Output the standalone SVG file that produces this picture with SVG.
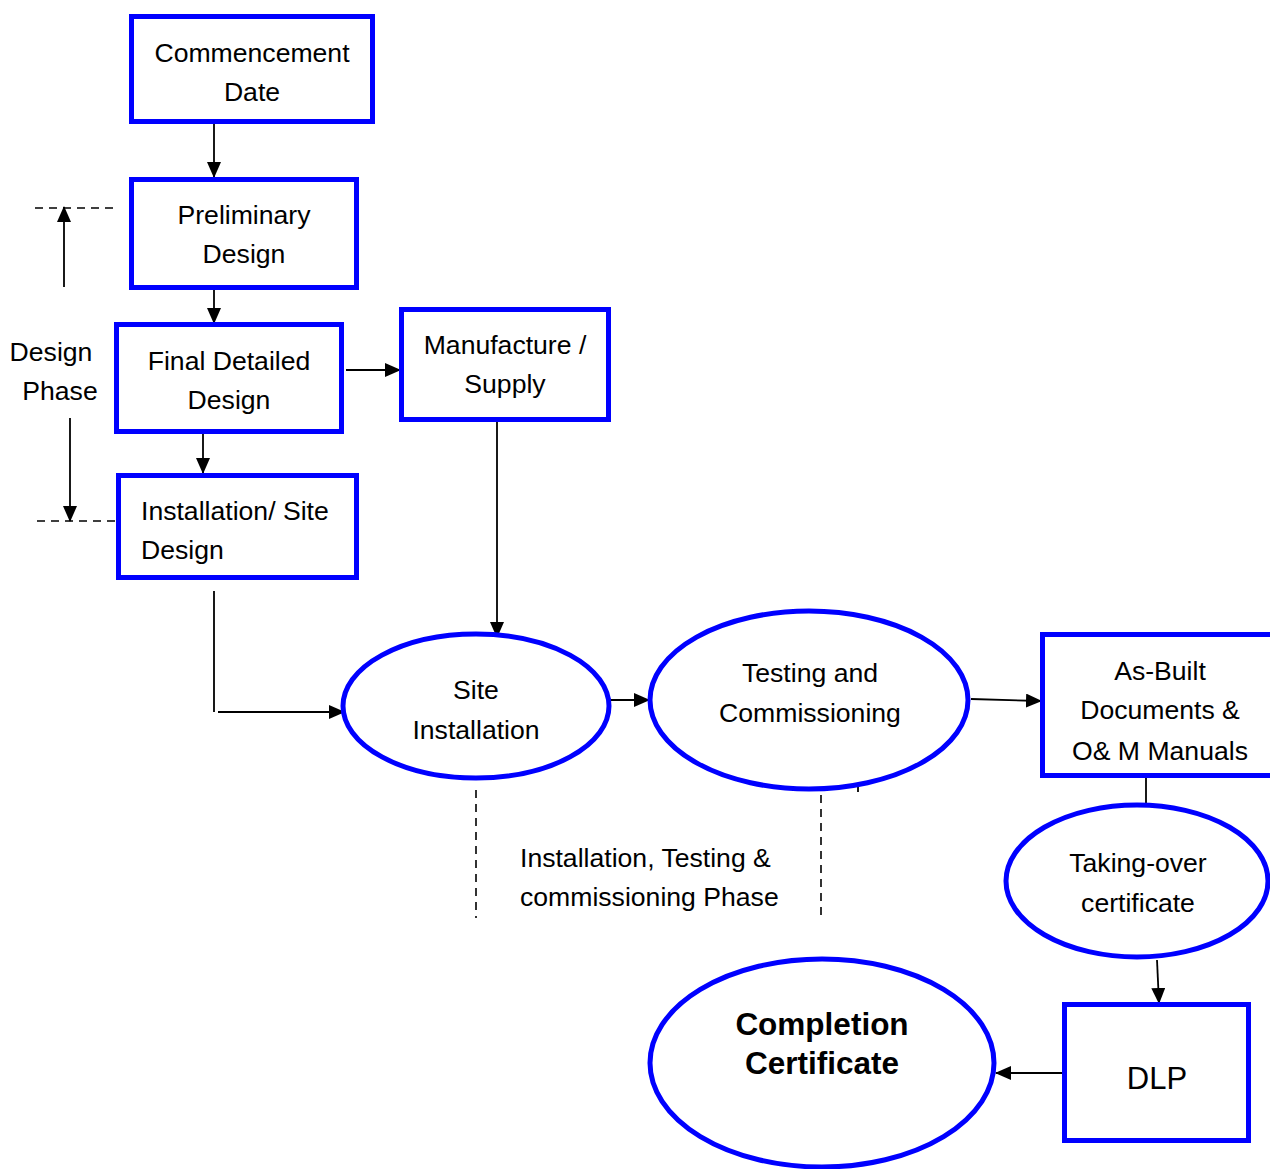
<svg xmlns="http://www.w3.org/2000/svg" width="1270" height="1169" viewBox="0 0 1270 1169">
<style>
.box{fill:#fff;stroke:#0000ff;stroke-width:5}
.t{font-family:"Liberation Sans",Arial,sans-serif;font-size:26.6px;fill:#000}
.c{text-anchor:middle}
.b{font-weight:bold;font-size:31.5px}
.ln{fill:none;stroke:#000;stroke-width:1.8}
.ds{fill:none;stroke:#000;stroke-width:1.6;stroke-dasharray:8 6}
</style>
<defs>
<marker id="ah" markerWidth="16" markerHeight="14" refX="15" refY="7" orient="auto" markerUnits="userSpaceOnUse">
<path d="M0,0 L16,7 L0,14 Z" fill="#000"/>
</marker>
</defs>
<rect width="1270" height="1169" fill="#fff"/>
<g id="connectors">
<path class="ln" d="M214,124 V177" marker-end="url(#ah)"/>
<path class="ln" d="M214,290 V323" marker-end="url(#ah)"/>
<path class="ln" d="M346,370 H400" marker-end="url(#ah)"/>
<path class="ln" d="M203,434 V473" marker-end="url(#ah)"/>
<path class="ln" d="M497,422 V637" marker-end="url(#ah)"/>
<path class="ln" d="M214,591 V712 M218,712 H344" marker-end="url(#ah)"/>
<path class="ln" d="M610,700 H649" marker-end="url(#ah)"/>
<path class="ln" d="M971,699 L1041,701" marker-end="url(#ah)"/>
<path class="ln" d="M1146,778 V804"/>
<path class="ln" d="M1157,960 L1159,1003" marker-end="url(#ah)"/>
<path class="ln" d="M1064,1073 H996" marker-end="url(#ah)"/>
<path class="ln" d="M64,287 V207" marker-end="url(#ah)"/>
<path class="ln" d="M70,418 V521" marker-end="url(#ah)"/>
<path class="ds" d="M35,208 H113"/>
<path class="ds" d="M37,521 H115"/>
<path class="ds" d="M476,790 V918"/>
<path class="ds" d="M821,795 V915"/>
<path class="ln" d="M858,785 V792"/>
</g>
<g id="commencement">
<rect class="box" x="131.5" y="16.5" width="241" height="105"/>
<text class="t c" x="252" y="62">Commencement</text>
<text class="t c" x="252" y="101">Date</text>
</g>
<g id="preliminary">
<rect class="box" x="131.5" y="179.5" width="225" height="108"/>
<text class="t c" x="244" y="224">Preliminary</text>
<text class="t c" x="244" y="263">Design</text>
</g>
<g id="final-design">
<rect class="box" x="116.5" y="324.5" width="225" height="107"/>
<text class="t c" x="229" y="370">Final Detailed</text>
<text class="t c" x="229" y="409">Design</text>
</g>
<g id="manufacture">
<rect class="box" x="401.5" y="309.5" width="207" height="110"/>
<text class="t c" x="505" y="354">Manufacture /</text>
<text class="t c" x="505" y="393">Supply</text>
</g>
<g id="installation-design">
<rect class="box" x="118.5" y="475.5" width="238" height="102"/>
<text class="t" x="141" y="520">Installation/ Site</text>
<text class="t" x="141" y="559">Design</text>
</g>
<g id="design-phase">
<text class="t c" x="51" y="361">Design</text>
<text class="t c" x="60" y="400">Phase</text>
</g>
<g id="site-installation">
<ellipse class="box" cx="476" cy="706" rx="133" ry="72"/>
<text class="t c" x="476" y="699">Site</text>
<text class="t c" x="476" y="739">Installation</text>
</g>
<g id="testing">
<ellipse class="box" cx="809" cy="700" rx="159" ry="89"/>
<text class="t c" x="810" y="682">Testing and</text>
<text class="t c" x="810" y="722">Commissioning</text>
</g>
<g id="as-built">
<rect class="box" x="1042.5" y="634.5" width="240" height="141"/>
<text class="t c" x="1160" y="680">As-Built</text>
<text class="t c" x="1160" y="719">Documents &amp;</text>
<text class="t c" x="1160" y="760">O&amp; M Manuals</text>
</g>
<g id="phase-label">
<text class="t" x="520" y="867">Installation, Testing &amp;</text>
<text class="t" x="520" y="906">commissioning Phase</text>
</g>
<g id="taking-over">
<ellipse class="box" cx="1137" cy="881" rx="131" ry="76"/>
<text class="t c" x="1138" y="872">Taking-over</text>
<text class="t c" x="1138" y="912">certificate</text>
</g>
<g id="dlp">
<rect class="box" x="1064.5" y="1004.5" width="184" height="136"/>
<text class="t c" x="1157" y="1089" style="font-size:31px">DLP</text>
</g>
<g id="completion">
<ellipse class="box" cx="822" cy="1063" rx="172" ry="104"/>
<text class="t c b" x="822" y="1035">Completion</text>
<text class="t c b" x="822" y="1074">Certificate</text>
</g>
</svg>
